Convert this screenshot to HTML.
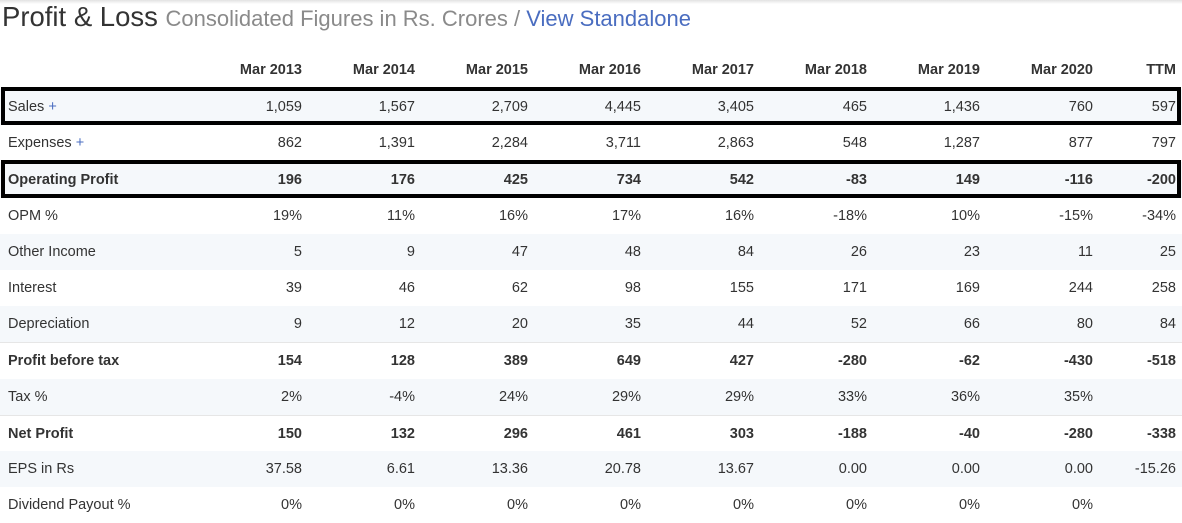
<!DOCTYPE html>
<html><head><meta charset="utf-8"><style>
body{margin:0;width:1182px;height:518px;background:#fff;font-family:"Liberation Sans",sans-serif;color:#333;position:relative;overflow:hidden}
.top{position:absolute;left:0;top:0;width:1182px;height:4px;background:linear-gradient(#e2e2e2,#fff)}
.title{position:absolute;left:2px;top:0px;font-size:27.5px;color:#333;white-space:nowrap;line-height:34px}
.title .s{font-size:22px;color:#8a8a8a}
.title a{color:#4a6dc0;text-decoration:none}
.row{position:absolute;left:0;width:1182px;height:36px;font-size:14.5px;line-height:36px}
.row.sh{background:#f5f8fb}
.row .l{position:absolute;left:8px}
.row .c{position:absolute;text-align:right;width:100px}
.b{font-weight:bold}
.plus{color:#4a6dc0 !important}
.box{position:absolute;left:1px;width:1172px;border:4px solid #000;height:30px}
</style></head><body>
<div class="top"></div>
<div class="title">Profit &amp; Loss <span class="s">Consolidated Figures in Rs. Crores / <a>View Standalone</a></span></div>
<div id="t"></div>
<script>
const rows=[
["",["Mar 2013","Mar 2014","Mar 2015","Mar 2016","Mar 2017","Mar 2018","Mar 2019","Mar 2020","TTM"],1,0,52],
["Sales",["1,059","1,567","2,709","4,445","3,405","465","1,436","760","597"],0,1,89,1],
["Expenses",["862","1,391","2,284","3,711","2,863","548","1,287","877","797"],0,0,125,1],
["Operating Profit",["196","176","425","734","542","-83","149","-116","-200"],1,1,162],
["OPM %",["19%","11%","16%","17%","16%","-18%","10%","-15%","-34%"],0,0,198],
["Other Income",["5","9","47","48","84","26","23","11","25"],0,1,234],
["Interest",["39","46","62","98","155","171","169","244","258"],0,0,270],
["Depreciation",["9","12","20","35","44","52","66","80","84"],0,1,306],
["Profit before tax",["154","128","389","649","427","-280","-62","-430","-518"],1,0,343],
["Tax %",["2%","-4%","24%","29%","29%","33%","36%","35%",""],0,1,379],
["Net Profit",["150","132","296","461","303","-188","-40","-280","-338"],1,0,416],
["EPS in Rs",["37.58","6.61","13.36","20.78","13.67","0.00","0.00","0.00","-15.26"],0,1,451],
["Dividend Payout %",["0%","0%","0%","0%","0%","0%","0%","0%",""],0,0,487]];
const rights=[302,415,528,641,754,867,980,1093,1176];
let h="";
for(const r of rows){
 h+=`<div class="row${r[3]?' sh':''}${r[2]?' b':''}" style="top:${r[4]}px"><span class="l">${r[0]}${r[5]?' <span class="plus">+</span>':''}</span>`;
 r[1].forEach((v,i)=>{h+=`<span class="c" style="left:${rights[i]-100}px">${v}</span>`});
 h+=`</div>`;
}
h+=`<div class="box" style="top:87px"></div><div class="box" style="top:160px"></div>`;
h+=`<div style="position:absolute;left:0;top:342px;width:1182px;height:1px;background:#e6e6e6"></div><div style="position:absolute;left:0;top:415px;width:1182px;height:1px;background:#e6e6e6"></div>`;
document.getElementById("t").innerHTML=h;
</script>
</body></html>
